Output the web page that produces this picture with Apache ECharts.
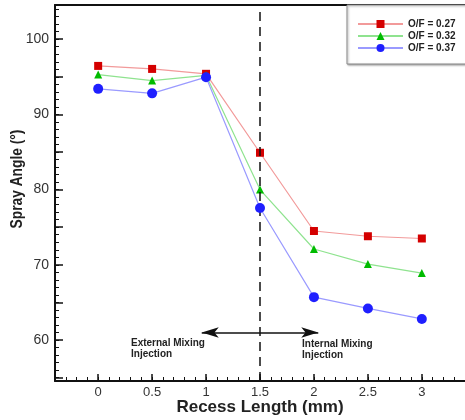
<!DOCTYPE html>
<html><head><meta charset="utf-8">
<script src="https://cdn.jsdelivr.net/npm/echarts@6/dist/echarts.min.js"></script>
<style>html,body{margin:0;padding:0;background:#fff}#c{width:465px;height:420px}</style>
</head><body><div id="c"></div>
<script>
const recessLength = [0, 0.5, 1, 1.5, 2, 2.5, 3];
const seriesNames = ['O/F = 0.27', 'O/F = 0.32', 'O/F = 0.37'];
const of027 = [96.45, 96.05, 95.4, 84.9, 74.5, 73.8, 73.5];
const of032 = [95.3, 94.5, 95.2, 80.0, 72.1, 70.1, 68.9];
const of037 = [93.4, 92.8, 94.95, 77.55, 65.7, 64.2, 62.8];
const xTickLabels = [0, 0.5, 1, 1.5, 2, 2.5, 3];
const yTickLabels = [60, 70, 80, 90, 100];

const xMinor = []; for (let i = -4; i <= 34; i++) xMinor.push(+(i / 10).toFixed(1));
const yMinor = []; for (let v = 55; v <= 104; v++) yMinor.push(v);
const yMajor = []; for (let v = 55; v <= 100; v += 5) yMajor.push(v);

const font = 'Arial, "Liberation Sans", sans-serif';
const chart = echarts.init(document.getElementById('c'));
const pair = arr => recessLength.map((x, i) => [x, arr[i]]);

const styles = [
  {line: '#f29a9a', mark: '#d40000', symbol: 'rect', size: 8},
  {line: '#8fe38f', mark: '#00bb00', symbol: 'triangle', size: 8},
  {line: '#9a9aff', mark: '#1f1fff', symbol: 'circle', size: 10}
];
const dataSets = [of027, of032, of037];

const series = dataSets.map((d, i) => ({
  name: seriesNames[i], type: 'line', xAxisIndex: 0, yAxisIndex: 0,
  data: pair(d), symbol: styles[i].symbol, symbolSize: styles[i].size,
  lineStyle: {color: styles[i].line, width: 1.2},
  itemStyle: {color: styles[i].mark},
  z: 3 + i
}));

series.push({
  type: 'line', data: [], xAxisIndex: 0, yAxisIndex: 0, silent: true,
  markLine: {
    silent: true, animation: false,
    label: {show: false},
    data: [
      {xAxis: 1.5, symbol: 'none', lineStyle: {color: '#111', type: [9, 6], width: 1.5}},
      [{coord: [1.5, 61], symbol: 'none'}, {coord: [0.96, 61], symbol: 'arrow', symbolSize: [8, 17]}],
      [{coord: [1.5, 61], symbol: 'none'}, {coord: [2.04, 61], symbol: 'arrow', symbolSize: [8, 17]}]
    ],
    lineStyle: {color: '#111', type: 'solid', width: 1.5},
    symbol: ['none', 'none']
  }
});

chart.setOption({
  animation: false,
  grid: {left: 55, top: 5, right: 0, bottom: 39, containLabel: false, outerBoundsMode: 'none'},
  legend: {
    data: seriesNames, orient: 'vertical', left: 347, top: 5,
    itemWidth: 45, itemHeight: 10, itemGap: 2,
    padding: [14, 60, 11, 10],
    backgroundColor: '#fff', borderColor: '#8a8a8a', borderWidth: 1,
    shadowColor: 'rgba(0,0,0,0.35)', shadowBlur: 2, shadowOffsetX: 1, shadowOffsetY: 1,
    textStyle: {fontFamily: font, fontWeight: 'bold', fontSize: 10, color: '#222'}
  },
  xAxis: [
    {type: 'value', min: -0.4, max: 3.4, position: 'bottom',
      name: 'Recess Length (mm)', nameLocation: 'middle', nameGap: 18, nameMoveOverlap: false,
      nameTextStyle: {fontFamily: font, fontWeight: 'bold', fontSize: 17, color: '#222'},
      axisLine: {show: true, onZero: false, lineStyle: {color: '#111', width: 2}},
      axisTick: {show: true, inside: true, length: 7, customValues: xTickLabels, lineStyle: {color: '#111', width: 1.5}},
      axisLabel: {show: true, customValues: xTickLabels, margin: 5, fontFamily: font, fontSize: 13, color: '#333'},
      splitLine: {show: false}},
    {type: 'value', min: -0.4, max: 3.4, position: 'bottom',
      axisLine: {show: false, onZero: false},
      axisTick: {show: true, inside: true, length: 4, customValues: xMinor, lineStyle: {color: '#111', width: 1}},
      axisLabel: {show: false}, splitLine: {show: false}},
    {type: 'value', min: -0.4, max: 3.4, position: 'top',
      axisLine: {show: true, onZero: false, lineStyle: {color: '#111', width: 2}},
      axisTick: {show: false}, axisLabel: {show: false}, splitLine: {show: false}}
  ],
  yAxis: [
    {type: 'value', min: 54.55, max: 104.55, position: 'left',
      axisLine: {show: true, onZero: false, lineStyle: {color: '#111', width: 2}},
      axisTick: {show: true, inside: true, length: 8, customValues: yMajor, lineStyle: {color: '#111', width: 1.5}},
      axisLabel: {show: true, customValues: yTickLabels, margin: 6, fontFamily: font, fontSize: 14, color: '#333'},
      splitLine: {show: false}},
    {type: 'value', min: 54.55, max: 104.55, position: 'left',
      axisLine: {show: false, onZero: false},
      axisTick: {show: true, inside: true, length: 4, customValues: yMinor, lineStyle: {color: '#111', width: 1}},
      axisLabel: {show: false}, splitLine: {show: false}}
  ],
  graphic: [
    {type: 'text', x: 18, y: 179, rotation: Math.PI / 2, scaleX: 0.86, scaleY: 1,
      style: {text: 'Spray Angle (°)', fontFamily: font, fontWeight: 'bold', fontSize: 16, fill: '#222', align: 'center', verticalAlign: 'middle'}},
    {type: 'text', left: 131, top: 338, style: {text: 'External Mixing\nInjection', fontFamily: font, fontWeight: 'bold', fontSize: 10, lineHeight: 11, fill: '#222'}},
    {type: 'text', left: 302, top: 339, style: {text: 'Internal Mixing\nInjection', fontFamily: font, fontWeight: 'bold', fontSize: 10, lineHeight: 11, fill: '#222'}}
  ],
  series: series
});
</script></body></html>
